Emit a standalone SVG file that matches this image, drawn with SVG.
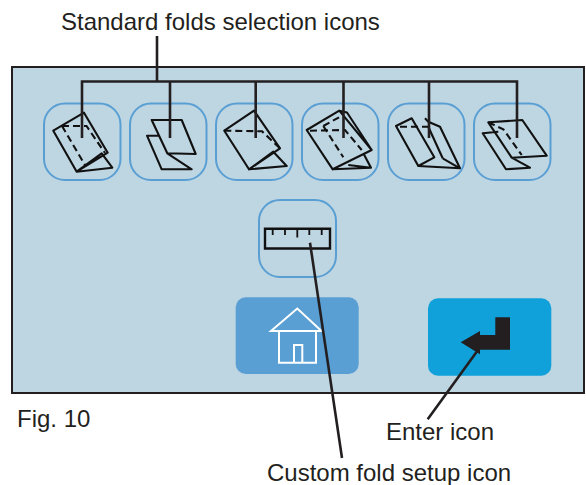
<svg xmlns="http://www.w3.org/2000/svg" width="586" height="485" viewBox="0 0 586 485">
<style>
text{font-family:"Liberation Sans",Arial,sans-serif;font-size:24px;fill:#231f20}
.box{fill:none;stroke:#5a9fd4;stroke-width:2}
.ic{fill:none;stroke:#111;stroke-width:2.100;stroke-linejoin:round}
.d{fill:none;stroke:#111;stroke-width:2.100;stroke-dasharray:7 4}
.c{fill:none;stroke:#231f20;stroke-width:2.600}
</style>
<rect width="586" height="485" fill="#fff"/>
<rect id="panel" x="12" y="67" width="572" height="326" fill="#bed5e2" stroke="#231f20" stroke-width="2"/>
<g id="fold1"><rect class="box" x="44" y="103.500" width="76.500" height="76.500" rx="21"/>
<path class="ic" d="M53.300 130.700L84 112.700L107.700 152.700L76.700 171.700ZM76.700 171.700L101.700 153.300L112.300 167.700Z"/>
<path class="d" d="M62 126L86.500 126L105 153M62 126L85 165"/></g>
<g id="fold2"><rect class="box" x="130" y="103.500" width="76.500" height="76.500" rx="21"/>
<path class="ic" d="M151.700 120L181.700 120L195.700 154L167.300 153.300ZM159 135.700L147 135.700L161.700 169.300L191.700 169.300L167.300 153.300"/></g>
<g id="fold3"><rect class="box" x="216" y="103.500" width="76.500" height="76.500" rx="21"/>
<path class="ic" d="M224.300 130.700L254 110.700L280 148.300L249 169.300ZM249 169.300L273.300 151.700L286.700 166Z"/>
<path class="d" d="M224.300 130.700L262 131.300L280 148.300"/></g>
<g id="fold4"><rect class="box" x="302" y="103.500" width="76.500" height="76.500" rx="21"/>
<path class="ic" d="M306.700 130L339.300 110.700L371.700 150L332.700 169.300ZM339.300 110.700L347 112.500L371.700 150M332.700 169.300L371 167.700L363.300 153.300M348.300 165L371 167.700"/>
<path class="d" d="M310 130.700L345 130L361.700 150M323.300 126L343.300 115M323.300 126L343.300 157.300"/></g>
<g id="fold5"><rect class="box" x="388" y="103.500" width="76.500" height="76.500" rx="21"/>
<path class="ic" d="M396 126L411.700 118.300L434.300 157.300L418.300 166ZM418.300 166L460 168.300L440 126.700L428.300 121.700L425 118.300M442.700 158.300L460 168.300M442.700 158.300L428.300 126.700"/>
<path class="d" d="M400 126.700L428.300 126.700"/></g>
<g id="fold6"><rect class="box" x="474" y="103.500" width="76.500" height="76.500" rx="21"/>
<path class="ic" d="M488.300 122.300L522.300 120L546.700 155.700L511.700 157.700ZM498.300 131.700L482.700 133.300L506 169.300L530 167.700L511.700 157.700"/>
<path class="d" d="M488.300 122.300L503.300 129.300L521.700 155"/></g>
<g id="custom"><rect class="box" x="259" y="200" width="77" height="77" rx="21"/>
<path d="M265 228.800H330V248.500H265Z" fill="none" stroke="#111" stroke-width="2.400"/>
<path d="M272.700 229V235M285 229V235M297.300 229V237.500M309.300 229V235M321.700 229V235" fill="none" stroke="#111" stroke-width="1.800"/></g>
<g id="home"><rect x="235.700" y="297.300" width="123" height="76.700" rx="10" fill="#5a9fd4"/>
<path d="M271 331L297.300 308.500L321.500 331ZM279 331H316V362.700H279ZM294 362.700V345H302.300V362.700" fill="none" stroke="#fff" stroke-width="2"/></g>
<g id="enter"><rect x="428" y="298.300" width="123.300" height="77.400" rx="10" fill="#10a1da"/>
<path d="M460.700 342.300L480 331V335H495.300V317.300H510V349.700H480V354.300Z" fill="#231f20"/></g>
<g id="connectors">
<path class="c" d="M157 36V81.500M82 138V81.500H517V138M170 81.500V138M255.700 81.500V138M343.500 81.500V138M429 81.500V138"/>
<path class="c" d="M310 242.700L342 458M478 350L427.700 419.300"/>
</g>
<text x="61" y="30">Standard folds selection icons</text>
<text x="17" y="427">Fig. 10</text>
<text x="386" y="440">Enter icon</text>
<text x="267" y="481">Custom fold setup icon</text>
</svg>
